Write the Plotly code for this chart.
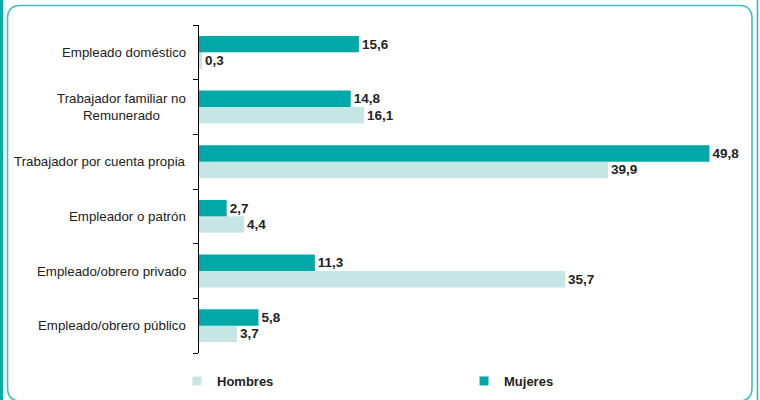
import plotly.graph_objects as go

categories = [
    "Empleado/obrero público",
    "Empleado/obrero privado",
    "Empleador o patrón",
    "Trabajador por cuenta propia",
    "Trabajador familiar no<br>Remunerado",
    "Empleado doméstico",
]
hombres = [3.7, 35.7, 4.4, 39.9, 16.1, 0.3]
mujeres = [5.8, 11.3, 2.7, 49.8, 14.8, 15.6]

C_H = "#C6E6E6"
C_M = "#00A9A8"
BORDER = "#3FBFBF"
TXT = "#222222"
FONT = "Liberation Sans, Arial, sans-serif"

W, H = 760, 400
L, R, T, B = 199, 0, 25, 47
PW, PH = W - L - R, H - T - B


def fmt(v):
    return f"{v:.1f}".replace(".", ",")


def px(x):
    return (x - L) / PW


def py(y):
    return (H - B - y) / PH


fig = go.Figure()
fig.add_trace(go.Bar(
    y=categories, x=hombres, orientation="h", name="Hombres",
    marker=dict(color=C_H, line=dict(width=0)),
    text=[fmt(v) for v in hombres], textposition="outside",
    textfont=dict(family=FONT, size=13.5, color=TXT, weight="bold"),
    cliponaxis=False, showlegend=False,
))
fig.add_trace(go.Bar(
    y=categories, x=mujeres, orientation="h", name="Mujeres",
    marker=dict(color=C_M, line=dict(width=0)),
    text=[fmt(v) for v in mujeres], textposition="outside",
    textfont=dict(family=FONT, size=13.5, color=TXT, weight="bold"),
    cliponaxis=False, showlegend=False,
))
# legend entries
for name, col in [("Hombres", C_H), ("Mujeres", C_M)]:
    fig.add_trace(go.Scatter(
        x=[None], y=[None], mode="markers", name=name,
        marker=dict(symbol="square", size=9, color=col),
    ))

# category labels (centered multi-line)
for c in categories:
    fig.add_annotation(
        x=0, xref="paper", y=c, yref="y", text=c, showarrow=False,
        xanchor="right", xshift=-11, align="center",
        font=dict(family=FONT, size=13.3, color=TXT),
    )

# border shapes
x0, y0, x1, y1, r = 7.5, 5.5, 752, 401, 13
pts = [
    ("M", x0 + r, y0), ("L", x1 - r, y0), ("Q", x1, y0, x1, y0 + r),
    ("L", x1, y1 - r), ("Q", x1, y1, x1 - r, y1), ("L", x0 + r, y1),
    ("Q", x0, y1, x0, y1 - r), ("L", x0, y0 + r), ("Q", x0, y0, x0 + r, y0),
]
path = ""
for p in pts:
    cmd = p[0]
    coords = p[1:]
    s = []
    for i in range(0, len(coords), 2):
        s.append(f"{px(coords[i]):.5f},{py(coords[i+1]):.5f}")
    path += cmd + " ".join(s) + " "
path += "Z"
fig.add_shape(type="path", path=path, xref="paper", yref="paper",
              line=dict(color=BORDER, width=1.6), layer="below")
fig.add_shape(type="line", xref="paper", yref="paper",
              x0=px(1.5), x1=px(1.5), y0=py(0), y1=py(400),
              line=dict(color="#00AEAE", width=3))
fig.add_shape(type="line", xref="paper", yref="paper",
              x0=px(757.5), x1=px(757.5), y0=py(0), y1=py(400),
              line=dict(color="#2BB8B8", width=1.5))

fig.update_layout(
    width=W, height=H,
    margin=dict(l=L, r=R, t=T, b=B, autoexpand=False),
    paper_bgcolor="white", plot_bgcolor="white",
    barmode="group", bargap=0.4, bargroupgap=0,
    font=dict(family=FONT, size=13, color=TXT),
    xaxis=dict(range=[0, PW / 10.25], visible=False, fixedrange=True),
    yaxis=dict(
        showline=True, linecolor="black", linewidth=1,
        ticks="outside", ticklen=5, tickcolor="black", tickwidth=1,
        tickson="boundaries", showticklabels=False, showgrid=False,
        zeroline=False, fixedrange=True,
    ),
    legend=dict(
        orientation="h", x=px(177), xanchor="left", y=py(366), yanchor="top",
        entrywidth=242, entrywidthmode="pixels",
        font=dict(family=FONT, size=13, color=TXT, weight="bold"),
        bgcolor="rgba(0,0,0,0)", borderwidth=0,
        itemclick=False, itemdoubleclick=False,
    ),
    showlegend=True,
)

fig.write_html(
    "out.html",
    config={"displayModeBar": False},
    post_script="document.body.style.margin='0';document.body.style.overflow='hidden';",
)
